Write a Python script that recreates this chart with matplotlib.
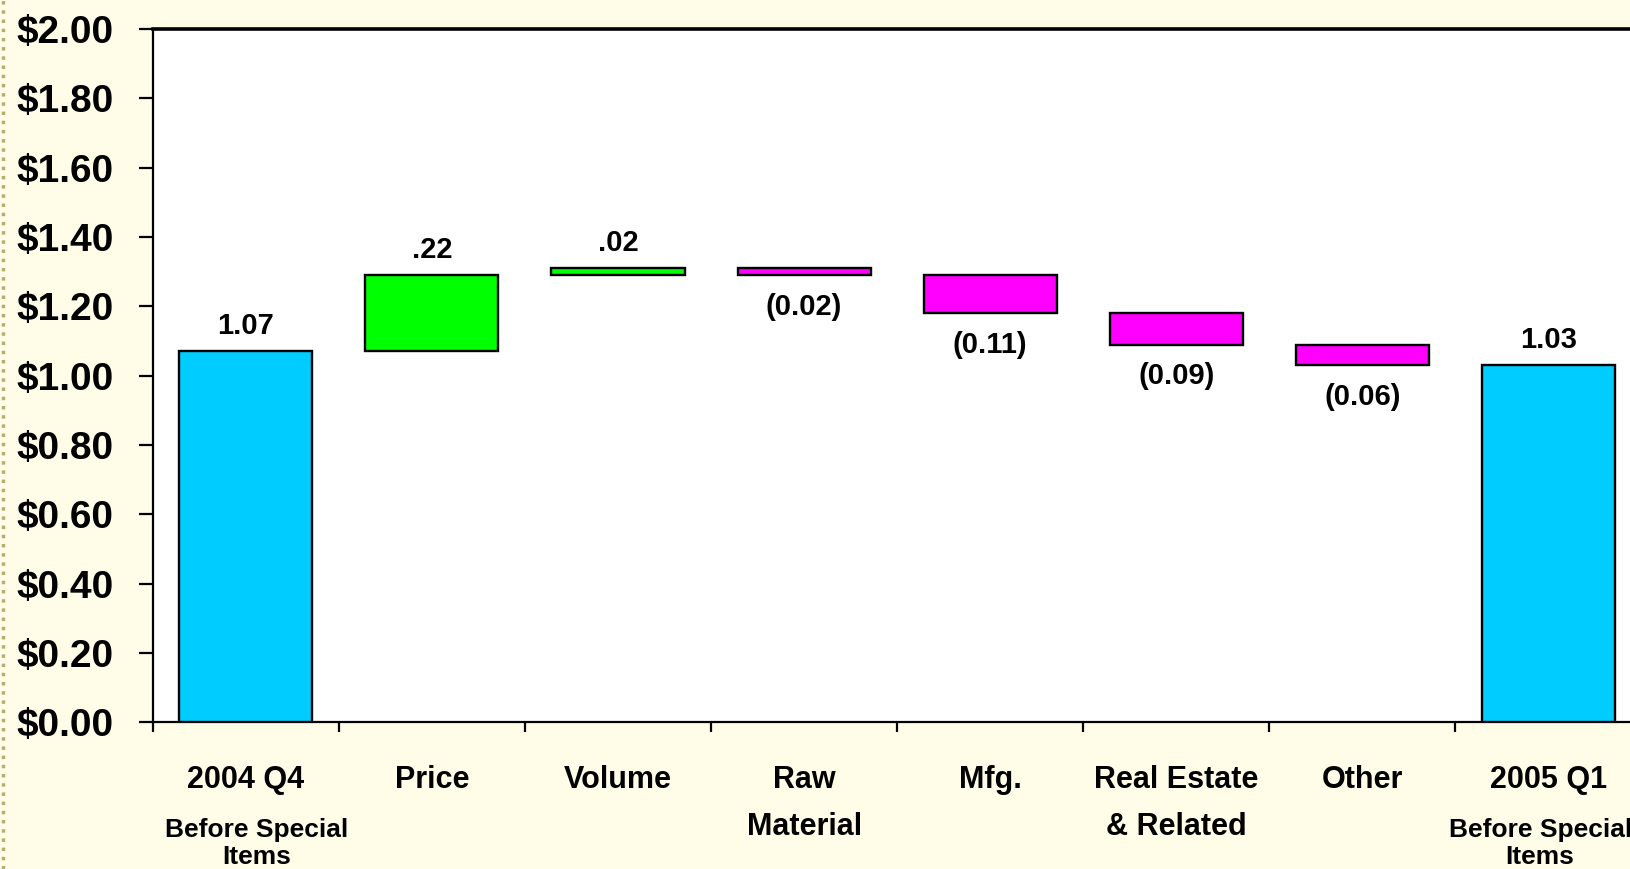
import matplotlib
matplotlib.use("Agg")
import matplotlib.pyplot as plt
from matplotlib.lines import Line2D
import numpy as np

# waterfall data (EPS bridge, before special items)
categories = ["2004 Q4", "Price", "Volume", "Raw\nMaterial", "Mfg.",
              "Real Estate\n& Related", "Other", "2005 Q1"]
sublabels = ["Before Special\nItems", "", "", "", "", "", "", "Before Special\nItems"]
start_value = 1.07
changes = [0.22, 0.02, -0.02, -0.11, -0.09, -0.06]
end_value = 1.03
value_labels = ["1.07", ".22", ".02", "(0.02)", "(0.11)", "(0.09)", "(0.06)", "1.03"]
y_ticks = [0.0, 0.2, 0.4, 0.6, 0.8, 1.0, 1.2, 1.4, 1.6, 1.8, 2.0]

BG = "#FFFDE8"
CYAN = "#00CCFF"
GREEN = "#00FF00"
MAGENTA = "#FF00FF"
FONT = ["Liberation Sans", "DejaVu Sans"]

# build bar bottoms / heights from the changes
bottoms = [0.0]
heights = [start_value]
colors = [CYAN]
level = start_value
for c in changes:
    if c >= 0:
        bottoms.append(level)
        heights.append(c)
        colors.append(GREEN)
    else:
        bottoms.append(level + c)
        heights.append(-c)
        colors.append(MAGENTA)
    level += c
bottoms.append(0.0)
heights.append(end_value)
colors.append(CYAN)

fig = plt.figure(figsize=(16.3, 8.69), dpi=100)
fig.patch.set_facecolor(BG)
ax = fig.add_axes([0.0937, 0.1686, 0.9134, 0.798])
ax.set_facecolor("white")

x = np.arange(len(categories))
ax.bar(x, heights, bottom=bottoms, width=0.715, color=colors,
       edgecolor="black", linewidth=1.7, zorder=3)

# value labels: above for gains/totals, below for losses
for i, lab in enumerate(value_labels):
    if colors[i] == MAGENTA:
        ax.annotate(lab, (x[i], bottoms[i]), xytext=(0, -23), textcoords="offset points",
                    ha="center", va="center", fontsize=21, fontweight="bold", family=FONT)
    else:
        ax.annotate(lab, (x[i], bottoms[i] + heights[i]), xytext=(0, 18),
                    textcoords="offset points", ha="center", va="center",
                    fontsize=21, fontweight="bold", family=FONT)

ax.set_xlim(-0.5, len(categories) - 0.5)
ax.set_ylim(0, 2.0)
ax.set_yticks(y_ticks)
ax.set_yticklabels(["${:.2f}".format(v) for v in y_ticks], fontsize=28,
                   fontweight="bold", family=FONT)
ax.tick_params(axis="y", direction="out", length=10, width=1.6, pad=18)

# x ticks sit on the category boundaries, labels drawn as text
ax.set_xticks(np.arange(len(categories) + 1) - 0.5)
ax.set_xticklabels([])
ax.tick_params(axis="x", direction="out", length=7, width=1.6)

# small sideways nudge of the sub-labels (last one kept inside the figure)
sub_nudge = {0: 8, len(categories) - 1: -6}
for i, cat in enumerate(categories):
    for j, line in enumerate(cat.split("\n")):
        ax.annotate(line, (x[i], 0), xycoords=("data", "axes fraction"),
                    xytext=(0, -41.5 - 34 * j), textcoords="offset points",
                    ha="center", va="center", fontsize=22, fontweight="bold",
                    family=FONT, annotation_clip=False)
    if sublabels[i]:
        for j, line in enumerate(sublabels[i].split("\n")):
            ax.annotate(line, (x[i], 0), xycoords=("data", "axes fraction"),
                        xytext=(sub_nudge.get(i, 0), -77.5 - 19.5 * j),
                        textcoords="offset points", ha="center", va="center",
                        fontsize=19, fontweight="bold", family=FONT,
                        annotation_clip=False)

for side in ["left", "bottom"]:
    ax.spines[side].set_linewidth(1.6)
ax.spines["top"].set_linewidth(2.6)
ax.spines["right"].set_visible(False)

# dotted slide border on the left edge
fig.add_artist(Line2D([0.002, 0.002], [0, 1], transform=fig.transFigure,
                      color="#B5AE72", linestyle=":", linewidth=2.5))

fig.savefig("out.png", dpi=100, facecolor=BG)
